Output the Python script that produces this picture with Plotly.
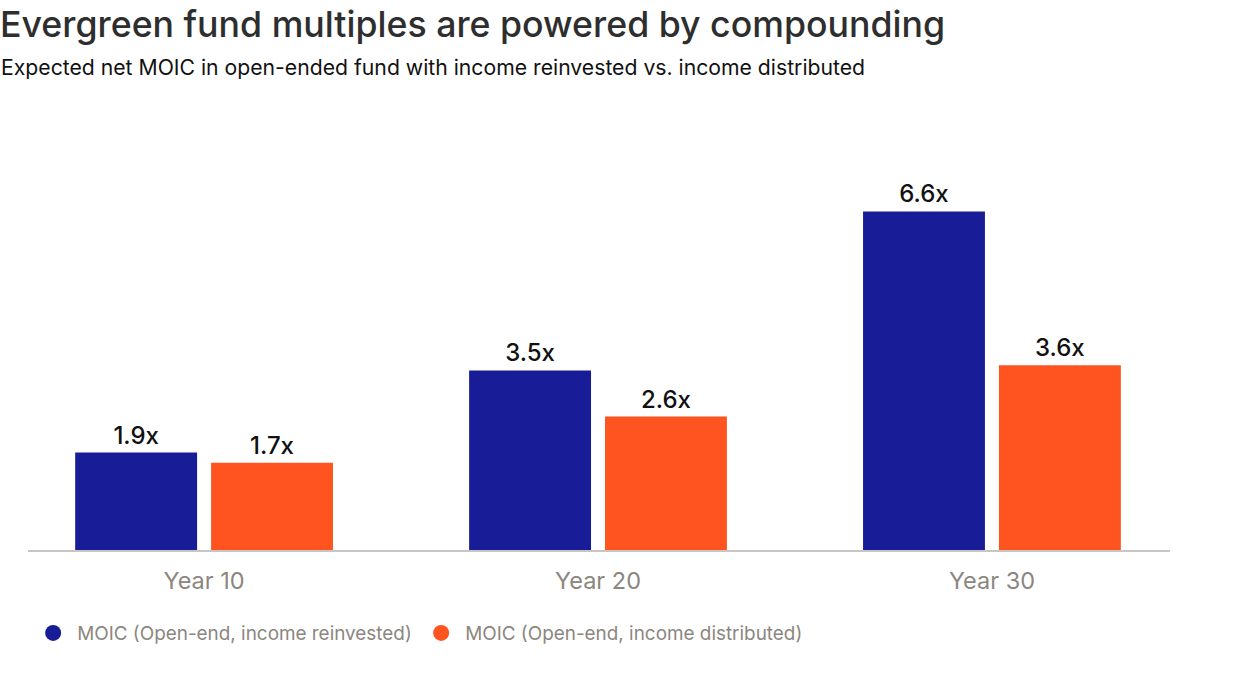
import plotly.graph_objects as go

categories = ["Year 10", "Year 20", "Year 30"]
reinvested = [1.9, 3.5, 6.6]
distributed = [1.7, 2.6, 3.6]
series_names = ["MOIC (Open-end, income reinvested)", "MOIC (Open-end, income distributed)"]
colors = ["#181c96", "#ff5420"]

FONT = "Inter"
fig = go.Figure()
for vals, name, col in zip([reinvested, distributed], series_names, colors):
    fig.add_trace(go.Bar(
        x=categories, y=vals, name=name, marker=dict(color=col, line=dict(width=0)),
        text=[f"{v:.1f}x" for v in vals], textposition="outside", cliponaxis=False,
        textfont=dict(family=FONT, size=24, color="#111111", weight=500),
        showlegend=False, hoverinfo="skip",
    ))
    fig.add_trace(go.Scatter(
        x=[None], y=[None], mode="markers", name=name,
        marker=dict(symbol="circle", size=18, color=col), showlegend=True,
    ))

L, R, T, B = 28, 86, 130, 146
fig.update_layout(
    width=1256, height=696,
    margin=dict(l=L, r=R, t=T, b=B),
    paper_bgcolor="white", plot_bgcolor="white",
    barmode="group", bargap=0.31, bargroupgap=0.103,
    title=dict(text="Evergreen fund multiples are powered by compounding",
               x=0, xref="container", xanchor="left", y=1 - 25 / 696, yref="container", yanchor="middle",
               pad=dict(l=0, t=0, b=0, r=0),
               font=dict(family=FONT, size=35.7, color="#2e2e2e", weight=500)),
    showlegend=True,
    legend=dict(orientation="h", x=0.001, xanchor="left", y=-0.198, yanchor="middle",
                font=dict(family=FONT, size=18.9, color="#8c8680"),
                itemsizing="trace", itemwidth=38, tracegroupgap=0, bgcolor="rgba(0,0,0,0)",
                entrywidth=335, entrywidthmode="pixels"),
    xaxis=dict(range=[-0.447, 2.452], showline=True, linecolor="#c8c5c2", linewidth=2,
               ticks="", showgrid=False, zeroline=False, ticklabelstandoff=9,
               tickfont=dict(family=FONT, size=23.5, color="#8c8680")),
    yaxis=dict(range=[0, 420 / 51.3], visible=False, showgrid=False, zeroline=False),
    annotations=[dict(text="Expected net MOIC in open-ended fund with income reinvested vs. income distributed",
                      x=0, xref="paper", xshift=-L - 1, xanchor="left", y=1, yref="paper", yshift=T - 67,
                      yanchor="middle", showarrow=False,
                      font=dict(family=FONT, size=21.2, color="#111111"))],
)
fig.write_html("out.html", config={"displayModeBar": False},
               post_script="document.body.style.margin='0';")
